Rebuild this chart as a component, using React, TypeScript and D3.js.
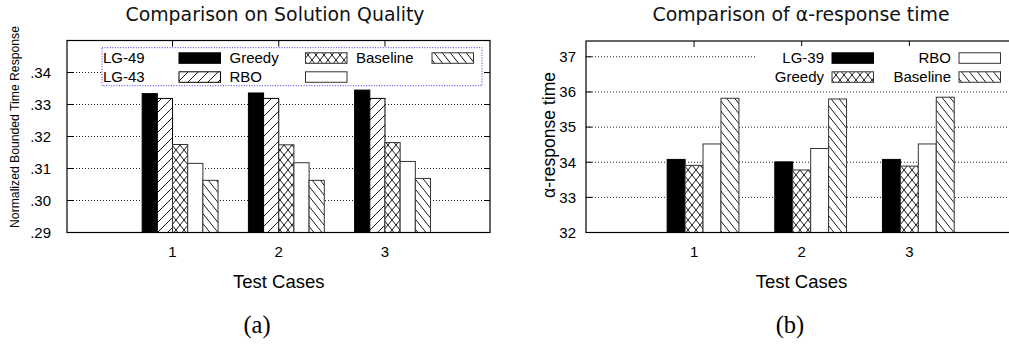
import React from 'react';
import * as d3 from 'd3';

// ---------- DATA ----------
const cases = ['1', '2', '3'];

// (a) Comparison on Solution Quality
const seriesA = ['LG-49', 'LG-43', 'Greedy', 'RBO', 'Baseline'];
const lg49 = [0.3334, 0.3336, 0.3345];
const lg43 = [0.3319, 0.3319, 0.3319];
const greedyA = [0.3175, 0.3174, 0.3181];
const rboA = [0.3116, 0.3118, 0.3122];
const baselineA = [0.3063, 0.3063, 0.3069];
const yTicksA = [0.29, 0.3, 0.31, 0.32, 0.33, 0.34];
const yTickLabelsA = ['.29', '.30', '.31', '.32', '.33', '.34'];

// (b) Comparison of α-response time
const seriesB = ['LG-39', 'Greedy', 'RBO', 'Baseline'];
const lg39 = [34.08, 34.01, 34.08];
const greedyB = [33.91, 33.78, 33.89];
const rboB = [34.52, 34.39, 34.52];
const baselineB = [35.82, 35.8, 35.85];
const yTicksB = [32, 33, 34, 35, 36, 37];
const yTickLabelsB = ['32', '33', '34', '35', '36', '37'];

// ---------- STYLE ----------
const SANS = '"Liberation Sans", Arial, Helvetica, sans-serif';
const TITLE = '"DejaVu Sans", Verdana, sans-serif';
const SERIF = '"Liberation Serif", "Times New Roman", serif';

const fillFor: Record<string, string> = {
  'LG-49': '#000',
  'LG-39': '#000',
  'LG-43': 'url(#pSlash)',
  Greedy: 'url(#pCross)',
  RBO: '#fff',
  Baseline: 'url(#pBslash)',
};

type Panel = {
  series: string[];
  values: number[][];
  yDomain: [number, number];
  yTicks: number[];
  yLabels: string[];
  x0: number;
  x1: number;
  left: number;
  right: number;
  top: number;
  bottom: number;
  barUnit: number;
  firstOffset: number;
  labelGap: number;
};

function Bars({ p }: { p: Panel }) {
  const x = d3.scaleLinear().domain([0, 4]).range([p.x0, p.x1]);
  const y = d3.scaleLinear().domain(p.yDomain).range([p.bottom, p.top]);
  const bw = x(p.barUnit) - x(0);
  const grid = p.yTicks.filter((t) => t !== p.yDomain[0]);
  return (
    <g>
      {grid.map((t) => (
        <line
          key={'g' + t}
          x1={p.left}
          x2={p.right}
          y1={y(t)}
          y2={y(t)}
          stroke="#000"
          strokeWidth={0.9}
          strokeDasharray="1,2"
        />
      ))}
      {p.yTicks.map((t) => (
        <g key={'t' + t}>
          <line x1={p.left} x2={p.left + 6} y1={y(t)} y2={y(t)} stroke="#000" />
          <line x1={p.right - 6} x2={p.right} y1={y(t)} y2={y(t)} stroke="#000" />
        </g>
      ))}
      {cases.map((c, i) => (
        <g key={'x' + c}>
          <line x1={x(i + 1)} x2={x(i + 1)} y1={p.top} y2={p.top + 6} stroke="#000" />
          <line x1={x(i + 1)} x2={x(i + 1)} y1={p.bottom} y2={p.bottom - 6} stroke="#000" />
        </g>
      ))}
      {p.series.map((s, j) =>
        p.values[j].map((v, i) => {
          const bx = x(i + 1) + (p.firstOffset + j) * bw;
          return (
            <rect
              key={s + i}
              x={bx}
              y={y(v)}
              width={bw}
              height={p.bottom - y(v)}
              fill={fillFor[s]}
              stroke={s.startsWith('LG') ? '#000' : '#333'}
              strokeWidth={1}
            />
          );
        })
      )}
      <rect
        x={p.left}
        y={p.top}
        width={p.right - p.left}
        height={p.bottom - p.top}
        fill="none"
        stroke="#000"
        strokeWidth={1.2}
      />
      {p.yTicks.map((t, k) => (
        <text
          key={'yl' + t}
          x={p.left - p.labelGap}
          y={y(t)}
          dy="0.36em"
          textAnchor="end"
          fontFamily={SANS}
          fontSize={15}
        >
          {p.yLabels[k]}
        </text>
      ))}
      {cases.map((c, i) => (
        <text
          key={'xl' + c}
          x={x(i + 1)}
          y={257}
          textAnchor="middle"
          fontFamily={SANS}
          fontSize={15}
        >
          {c}
        </text>
      ))}
    </g>
  );
}

function Sample({ s, x, y }: { s: string; x: number; y: number }) {
  return (
    <rect
      x={x}
      y={y - 10.5}
      width={41.5}
      height={10.5}
      fill={fillFor[s]}
      stroke={s.startsWith('LG') ? '#000' : '#333'}
      strokeWidth={1}
    />
  );
}

export default function App() {
  const panelA: Panel = {
    series: seriesA,
    values: [lg49, lg43, greedyA, rboA, baselineA],
    yDomain: [0.29, 0.35],
    yTicks: yTicksA,
    yLabels: yTickLabelsA,
    x0: 66.3,
    x1: 491.2,
    left: 67,
    right: 490,
    top: 40.5,
    bottom: 232.5,
    barUnit: 1 / 7,
    firstOffset: -2,
    labelGap: 16,
  };
  const panelB: Panel = {
    series: seriesB,
    values: [lg39, greedyB, rboB, baselineB],
    yDomain: [32, 37.45],
    yTicks: yTicksB,
    yLabels: yTickLabelsB,
    x0: 586.4,
    x1: 1017,
    left: 586,
    right: 1017,
    top: 41,
    bottom: 232.5,
    barUnit: 1 / 6,
    firstOffset: -1.5,
    labelGap: 10,
  };

  const rowsY = [63.3, 82.3];
  const colXA = [103, 229.5, 356];
  const colXB = [832, 959];

  return (
    <svg
      width={1009}
      height={345}
      style={{ position: 'absolute', left: 0, top: 0, background: '#fff' }}
    >
      <defs>
        <pattern id="pSlash" width={10} height={10} patternUnits="userSpaceOnUse">
          <rect width={10} height={10} fill="#fff" />
          <path d="M-1,11 L11,-1 M-3,3 L3,-3 M7,13 L13,7" stroke="#000" strokeWidth={0.9} />
        </pattern>
        <pattern id="pBslash" width={8} height={10} patternUnits="userSpaceOnUse">
          <rect width={8} height={10} fill="#fff" />
          <path d="M-0.8,-1 L8.8,11 M-8.8,-1 L0.8,11 M7.2,-1 L16.8,11" stroke="#000" strokeWidth={0.9} />
        </pattern>
        <pattern id="pCross" width={8} height={10} patternUnits="userSpaceOnUse">
          <rect width={8} height={10} fill="#fff" />
          <path d="M-0.8,-1 L8.8,11 M8.8,-1 L-0.8,11" stroke="#000" strokeWidth={0.9} />
        </pattern>
      </defs>

      {/* ---------- Panel (a) ---------- */}
      <text x={275} y={20.7} textAnchor="middle" fontFamily={TITLE} fontSize={18.9} fill="#111">
        Comparison on Solution Quality
      </text>
      <Bars p={panelA} />
      <rect
        x={102}
        y={47.7}
        width={380}
        height={38}
        fill="#fff"
        stroke="#3a3aee"
        strokeWidth={1}
        strokeDasharray="1,1.6"
      />
      {seriesA.map((s, k) => {
        const col = Math.floor(k / 2);
        const row = k % 2;
        return (
          <g key={'la' + s}>
            <text x={colXA[col]} y={rowsY[row]} fontFamily={SANS} fontSize={15}>
              {s}
            </text>
            <Sample s={s} x={colXA[col] + 76} y={rowsY[row]} />
          </g>
        );
      })}
      <text
        transform="translate(18.5,127) rotate(-90)"
        textAnchor="middle"
        fontFamily={SANS}
        fontSize={12.2}
      >
        Normalized Bounded Time Response
      </text>
      <text x={278.8} y={288.3} textAnchor="middle" fontFamily={SANS} fontSize={18.5}>
        Test Cases
      </text>
      <text x={257} y={333} textAnchor="middle" fontFamily={SERIF} fontSize={24.5}>
        (a)
      </text>

      {/* ---------- Panel (b) ---------- */}
      <text x={801} y={21} textAnchor="middle" fontFamily={TITLE} fontSize={18.9} fill="#111">
        Comparison of α-response time
      </text>
      <Bars p={panelB} />
      <rect x={757} y={46} width={260} height={42} fill="#fff" />
      {seriesB.map((s, k) => {
        const col = Math.floor(k / 2);
        const row = k % 2;
        return (
          <g key={'lb' + s}>
            <text x={colXB[col] - 8} y={rowsY[row]} textAnchor="end" fontFamily={SANS} fontSize={15}>
              {s}
            </text>
            <Sample s={s} x={colXB[col]} y={rowsY[row]} />
          </g>
        );
      })}
      <text
        transform="translate(555,135) rotate(-90)"
        textAnchor="middle"
        fontFamily={SANS}
        fontSize={17.5}
      >
        α-response time
      </text>
      <text x={801.5} y={288.3} textAnchor="middle" fontFamily={SANS} fontSize={18.5}>
        Test Cases
      </text>
      <text x={790} y={333} textAnchor="middle" fontFamily={SERIF} fontSize={24.5}>
        (b)
      </text>
    </svg>
  );
}
